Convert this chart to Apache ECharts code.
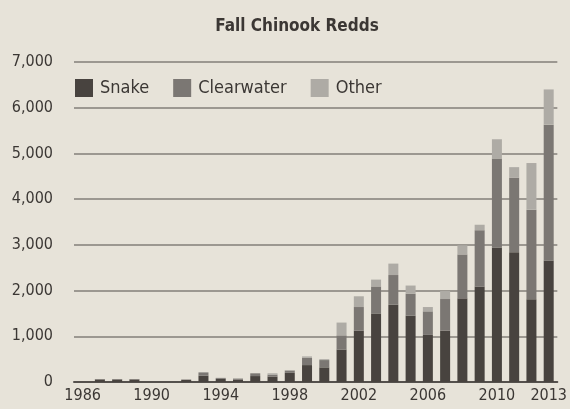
<!DOCTYPE html>
<html>
<head>
<meta charset="utf-8">
<script src="https://cdn.jsdelivr.net/npm/echarts@6/dist/echarts.min.js"></script>
<style>
    html, body {margin: 0; padding: 0; background: #e7e3d9;}
    #chart {width: 570px; height: 409px;}
</style>
</head>
<body>
<div id="chart"></div>
<script>
var years = ['1986', '1987', '1988', '1989', '1990', '1991', '1992', '1993', '1994', '1995',
    '1996', '1997', '1998', '1999', '2000', '2001', '2002', '2003', '2004', '2005',
    '2006', '2007', '2008', '2009', '2010', '2011', '2012', '2013'];
var snake = [0, 55, 55, 55, 0, 0, 45, 140, 70, 55,
    130, 120, 200, 370, 320, 710, 1125, 1500, 1690, 1450,
    1030, 1125, 1830, 2090, 2940, 2840, 1810, 2660];
var clearwater = [0, 10, 10, 10, 0, 0, 10, 70, 20, 20,
    60, 40, 50, 160, 160, 310, 515, 590, 650, 480,
    515, 690, 960, 1230, 1950, 1630, 1960, 2970];
var other = [0, 0, 0, 0, 0, 0, 0, 0, 0, 0,
    0, 30, 10, 30, 20, 280, 235, 150, 250, 180,
    95, 175, 200, 120, 420, 230, 1020, 770];
var yTicks = [0, 1000, 2000, 3000, 4000, 5000, 6000, 7000];

var font = '"Liberation Sans Narrow", "DejaVu Sans Condensed", "Noto Sans", sans-serif';
var chart = echarts.init(document.getElementById('chart'));

chart.setOption({
    backgroundColor: '#e7e3d9',
    animation: false,
    title: {
        text: 'Fall Chinook Redds', left: 292, top: 13, textAlign: 'center',
        textStyle: {fontFamily: font, fontSize: 17, fontWeight: 'bold', color: '#3b3734'}
    },
    legend: {
        left: 75, top: 79, padding: 0, itemWidth: 18, itemHeight: 18, itemGap: 24,
        icon: 'rect',
        textStyle: {fontFamily: font, fontSize: 18, color: '#3b3734', padding: [0, 0, 0, 2]},
        data: ['Snake', 'Clearwater', 'Other']
    },
    grid: {left: 74, right: 12, top: 62, bottom: 27},
    xAxis: {
        type: 'category',
        data: years,
        axisLine: {lineStyle: {color: '#55514d', width: 2}},
        axisTick: {show: false},
        axisLabel: {
            fontFamily: font, fontSize: 16, color: '#3b3734', margin: 6,
            interval: function (i, v) {
                return (v - 1986) % 4 === 0 || v === '2013';
            }
        }
    },
    yAxis: {
        type: 'value',
        min: yTicks[0], max: yTicks[yTicks.length - 1], interval: 1000,
        axisLine: {show: false},
        axisTick: {show: false},
        splitLine: {lineStyle: {color: '#9c9891', width: 2}},
        axisLabel: {
            fontFamily: font, fontSize: 16, color: '#3b3734', margin: 21,
            formatter: function (v) { return v.toLocaleString('en-US'); }
        }
    },
    series: [
        {name: 'Snake', type: 'bar', stack: 'r', barWidth: 10, data: snake, itemStyle: {color: '#48433f'}},
        {name: 'Clearwater', type: 'bar', stack: 'r', barWidth: 10, data: clearwater, itemStyle: {color: '#7b7773'}},
        {name: 'Other', type: 'bar', stack: 'r', barWidth: 10, data: other, itemStyle: {color: '#aeaba5'}}
    ]
});
</script>
</body>
</html>
